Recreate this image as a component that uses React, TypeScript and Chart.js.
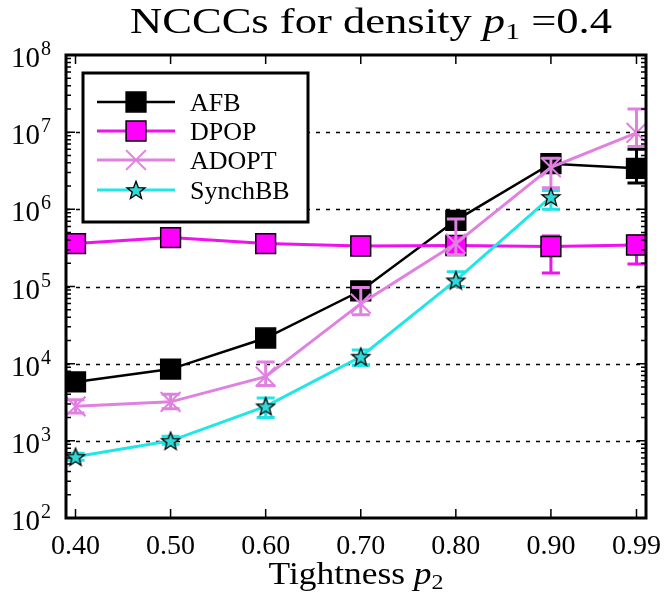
import React, { useEffect, useRef } from 'react';
import { Chart, registerables } from 'chart.js';

Chart.register(...registerables);

// ---------------- data ----------------
const xValues = [0.4, 0.5, 0.6, 0.7, 0.8, 0.9, 0.99];
const xTickLabels = ['0.40', '0.50', '0.60', '0.70', '0.80', '0.90', '0.99'];
const yDecadeExponents = [2, 3, 4, 5, 6, 7, 8];
const gridExponents = [3, 4, 5, 6, 7];

const seriesNames = ['AFB', 'DPOP', 'ADOPT', 'SynchBB'];

const afbValues = [5800, 8500, 21500, 88000, 720000, 3900000, 3400000];
const afbLow = [5300, 7900, 20000, 80000, 650000, 3500000, 2200000];
const afbHigh = [6300, 9200, 23500, 97000, 800000, 4300000, 6000000];

const dpopValues = [360000, 430000, 360000, 335000, 340000, 330000, 345000];
const dpopLow = [340000, 410000, 340000, 315000, 320000, 150000, 195000];
const dpopHigh = [380000, 450000, 380000, 355000, 360000, 450000, 450000];

const adoptValues = [2800, 3200, 6800, 60000, 360000, 3500000, 9800000];
const adoptLow = [2300, 2600, 5200, 43000, 260000, 1900000, 6500000];
const adoptHigh = [3400, 4000, 10500, 97000, 750000, 4600000, 20000000];

const synchValues: (number | null)[] = [620, 1000, 2800, 12300, 120000, 1450000, null];
const synchLow: (number | null)[] = [560, 900, 2000, 9500, 100000, 1000000, null];
const synchHigh: (number | null)[] = [690, 1150, 3600, 15000, 155000, 1750000, null];

// ---------------- styles ----------------
const SERIF = '"Liberation Serif", "DejaVu Serif", serif';
const C_AFB = '#000000';
const C_DPOP_LINE = '#f010f0';
const C_DPOP_FILL = '#ff00ff';
const C_ADOPT = '#e080e0';
const C_SYNCH_LINE = '#20e6e6';
const C_SYNCH_FILL = '#30d8d8';

function makeStar(size: number, outer: number, inner: number): HTMLCanvasElement {
  const c = document.createElement('canvas');
  c.width = size;
  c.height = size;
  const g = c.getContext('2d')!;
  const cx = size / 2;
  const cy = size / 2 + 0.8;
  g.beginPath();
  for (let i = 0; i < 10; i++) {
    const r = i % 2 === 0 ? outer : inner;
    const a = -Math.PI / 2 + (i * Math.PI) / 5;
    const px = cx + r * Math.cos(a);
    const py = cy + r * Math.sin(a);
    if (i === 0) g.moveTo(px, py);
    else g.lineTo(px, py);
  }
  g.closePath();
  g.fillStyle = C_SYNCH_FILL;
  g.fill();
  g.lineWidth = 1.3;
  g.strokeStyle = '#000';
  g.stroke();
  return c;
}

type Seg = { text: string; font: string; dy?: number };

function drawSegs(
  ctx: CanvasRenderingContext2D,
  segs: Seg[],
  x: number,
  baseline: number,
  align: 'left' | 'center' | 'right',
  targetW?: number,
  stretch?: number
) {
  ctx.save();
  ctx.textAlign = 'left';
  ctx.textBaseline = 'alphabetic';
  const widths = segs.map((s) => {
    ctx.font = s.font;
    return ctx.measureText(s.text).width;
  });
  const total = widths.reduce((a, b) => a + b, 0);
  const sx = targetW ? targetW / total : stretch || 1;
  const w = total * sx;
  const startX = align === 'center' ? x - w / 2 : align === 'right' ? x - w : x;
  ctx.translate(startX, baseline);
  ctx.scale(sx, 1);
  let cx = 0;
  segs.forEach((s, i) => {
    ctx.font = s.font;
    ctx.fillStyle = '#000';
    ctx.fillText(s.text, cx, s.dy || 0);
    cx += widths[i];
  });
  ctx.restore();
}

function drawMarker(ctx: CanvasRenderingContext2D, ds: any, x: number, y: number) {
  const st = ds.pointStyle;
  const r = ds.pointRadius;
  ctx.save();
  if (st === 'rect') {
    const s = Math.SQRT1_2 * r;
    ctx.fillStyle = ds.pointBackgroundColor;
    ctx.strokeStyle = ds.pointBorderColor;
    ctx.lineWidth = ds.pointBorderWidth;
    ctx.beginPath();
    ctx.rect(x - s, y - s, 2 * s, 2 * s);
    ctx.fill();
    ctx.stroke();
  } else if (st === 'crossRot') {
    const s = Math.SQRT1_2 * r;
    ctx.strokeStyle = ds.pointBorderColor;
    ctx.lineWidth = ds.pointBorderWidth;
    ctx.beginPath();
    ctx.moveTo(x - s, y - s);
    ctx.lineTo(x + s, y + s);
    ctx.moveTo(x - s, y + s);
    ctx.lineTo(x + s, y - s);
    ctx.stroke();
  } else if (st instanceof HTMLCanvasElement) {
    ctx.drawImage(st, x - st.width / 2, y - st.height / 2);
  }
  ctx.restore();
}

function errorArrays(i: number) {
  if (i === 0) return [afbLow, afbHigh];
  if (i === 1) return [dpopLow, dpopHigh];
  if (i === 2) return [adoptLow, adoptHigh];
  return [synchLow, synchHigh];
}
const errColors = [C_AFB, C_DPOP_LINE, C_ADOPT, C_SYNCH_LINE];

const customPlugin = {
  id: 'customDraw',
  beforeDatasetsDraw(chart: any) {
    const { ctx, chartArea: a } = chart;
    const ys = chart.scales.y;
    ctx.save();
    ctx.strokeStyle = '#000';
    ctx.lineWidth = 1.6;
    ctx.setLineDash([4, 6]);
    gridExponents.forEach((e) => {
      const y = Math.round(ys.getPixelForValue(Math.pow(10, e))) + 0.5;
      ctx.beginPath();
      ctx.moveTo(a.left, y);
      ctx.lineTo(a.right, y);
      ctx.stroke();
    });
    ctx.restore();
  },
  beforeDatasetDraw(chart: any, args: any) {
    const i = args.index;
    const { ctx, chartArea: a } = chart;
    const xs = chart.scales.x;
    const ys = chart.scales.y;
    const [lo, hi] = errorArrays(i);
    ctx.save();
    ctx.beginPath();
    ctx.rect(a.left, a.top, a.right - a.left, a.bottom - a.top);
    ctx.clip();
    ctx.strokeStyle = errColors[i];
    ctx.lineWidth = 3;
    xValues.forEach((xv, k) => {
      const l = lo[k];
      const h = hi[k];
      if (l == null || h == null) return;
      const px = xs.getPixelForValue(xv);
      const pl = ys.getPixelForValue(l);
      const ph = ys.getPixelForValue(h);
      ctx.beginPath();
      ctx.moveTo(px, pl);
      ctx.lineTo(px, ph);
      ctx.moveTo(px - 9, pl);
      ctx.lineTo(px + 9, pl);
      ctx.moveTo(px - 9, ph);
      ctx.lineTo(px + 9, ph);
      ctx.stroke();
    });
    ctx.restore();
  },
  afterDraw(chart: any) {
    const { ctx, chartArea: a } = chart;
    const xs = chart.scales.x;
    const ys = chart.scales.y;
    ctx.save();
    // ticks
    ctx.strokeStyle = '#000';
    ctx.lineWidth = 1.5;
    ctx.beginPath();
    yDecadeExponents.forEach((e) => {
      const y = ys.getPixelForValue(Math.pow(10, e));
      ctx.moveTo(a.left, y);
      ctx.lineTo(a.left + 9, y);
      ctx.moveTo(a.right, y);
      ctx.lineTo(a.right - 9, y);
      if (e < 8) {
        for (let m = 2; m <= 9; m++) {
          const ym = ys.getPixelForValue(m * Math.pow(10, e));
          ctx.moveTo(a.left, ym);
          ctx.lineTo(a.left + 5, ym);
          ctx.moveTo(a.right, ym);
          ctx.lineTo(a.right - 5, ym);
        }
      }
    });
    xValues.forEach((xv) => {
      const x = xs.getPixelForValue(xv);
      ctx.moveTo(x, a.top);
      ctx.lineTo(x, a.top + 9);
      ctx.moveTo(x, a.bottom);
      ctx.lineTo(x, a.bottom - 9);
    });
    ctx.stroke();
    // frame
    ctx.lineWidth = 3;
    ctx.strokeRect(a.left, a.top, a.right - a.left, a.bottom - a.top);

    // x tick labels
    const tickFont = `28px ${SERIF}`;
    xTickLabels.forEach((t, k) => {
      const x = xs.getPixelForValue(xValues[k]);
      drawSegs(ctx, [{ text: t, font: tickFont }], x, a.bottom + 36, 'center');
    });
    // y tick labels
    yDecadeExponents.forEach((e) => {
      const y = ys.getPixelForValue(Math.pow(10, e));
      drawSegs(ctx, [{ text: '10', font: `29px ${SERIF}` }], 40, y + 12, 'right');
      drawSegs(ctx, [{ text: String(e), font: `20px ${SERIF}` }], 41, y, 'left');
    });
    // x axis title
    drawSegs(
      ctx,
      [
        { text: 'Tightness ', font: `31px ${SERIF}` },
        { text: 'p', font: `italic 31px ${SERIF}` },
        { text: '2', font: `21px ${SERIF}`, dy: 5 },
      ],
      (a.left + a.right) / 2,
      584,
      'center',
      175
    );
    // title
    drawSegs(
      ctx,
      [
        { text: 'NCCCs for density ', font: `36px ${SERIF}` },
        { text: 'p', font: `italic 36px ${SERIF}` },
        { text: '1', font: `24px ${SERIF}`, dy: 6 },
        { text: ' =0.4', font: `36px ${SERIF}` },
      ],
      130,
      33,
      'left',
      482
    );

    // legend
    const lx0 = 83, ly0 = 73, lx1 = 308, ly1 = 222;
    ctx.fillStyle = '#fff';
    ctx.fillRect(lx0, ly0, lx1 - lx0, ly1 - ly0);
    ctx.lineWidth = 3;
    ctx.strokeStyle = '#000';
    ctx.strokeRect(lx0, ly0, lx1 - lx0, ly1 - ly0);
    const rowsY = [102, 131, 160, 190];
    const legFont = `26px ${SERIF}`;
    chart.data.datasets.forEach((ds: any, i: number) => {
      const y = rowsY[i];
      ctx.save();
      ctx.strokeStyle = ds.borderColor;
      ctx.lineWidth = ds.borderWidth;
      ctx.beginPath();
      ctx.moveTo(97, y);
      ctx.lineTo(175, y);
      ctx.stroke();
      ctx.restore();
      drawMarker(ctx, ds, 136, y);
      drawSegs(ctx, [{ text: ds.label, font: legFont }], 190, y + 9, 'left');
    });
    ctx.restore();
  },
};

export default function App() {
  const ref = useRef<HTMLCanvasElement | null>(null);
  useEffect(() => {
    if (!ref.current) return;
    const star = makeStar(24, 9.5, 4);
    const toPts = (vals: (number | null)[]) => xValues.map((x, k) => ({ x, y: vals[k] }));
    const chart = new Chart(ref.current, {
      type: 'line',
      data: {
        datasets: [
          {
            label: seriesNames[0],
            data: toPts(afbValues),
            borderColor: C_AFB,
            borderWidth: 2.5,
            pointStyle: 'rect',
            pointRadius: 14,
            pointBackgroundColor: C_AFB,
            pointBorderColor: '#000',
            pointBorderWidth: 1.5,
            order: 4,
          },
          {
            label: seriesNames[1],
            data: toPts(dpopValues),
            borderColor: C_DPOP_LINE,
            borderWidth: 3,
            pointStyle: 'rect',
            pointRadius: 14,
            pointBackgroundColor: C_DPOP_FILL,
            pointBorderColor: '#000',
            pointBorderWidth: 1.5,
            order: 3,
          },
          {
            label: seriesNames[2],
            data: toPts(adoptValues),
            borderColor: C_ADOPT,
            borderWidth: 3,
            pointStyle: 'crossRot',
            pointRadius: 14,
            pointBackgroundColor: C_ADOPT,
            pointBorderColor: C_ADOPT,
            pointBorderWidth: 2,
            order: 2,
          },
          {
            label: seriesNames[3],
            data: toPts(synchValues),
            borderColor: C_SYNCH_LINE,
            borderWidth: 3,
            pointStyle: star as any,
            pointRadius: 10,
            pointBackgroundColor: C_SYNCH_FILL,
            pointBorderColor: '#000',
            pointBorderWidth: 1,
            order: 1,
          },
        ] as any,
      },
      options: {
        animation: false,
        responsive: false,
        events: [],
        layout: { padding: { left: 66, right: 18, top: 55, bottom: 84 } },
        scales: {
          x: { type: 'linear', min: 0.39, max: 1.0, display: false },
          y: { type: 'logarithmic', min: 100, max: 1e8, display: false },
        },
        plugins: {
          legend: { display: false },
          title: { display: false },
          tooltip: { enabled: false },
        },
        elements: { line: { tension: 0 } },
      },
      plugins: [customPlugin as any],
    });
    return () => chart.destroy();
  }, []);
  return (
    <div style={{ position: 'absolute', left: 0, top: 0, width: 664, height: 602, background: '#fff' }}>
      <canvas ref={ref} width={664} height={602} style={{ display: 'block' }} />
    </div>
  );
}
